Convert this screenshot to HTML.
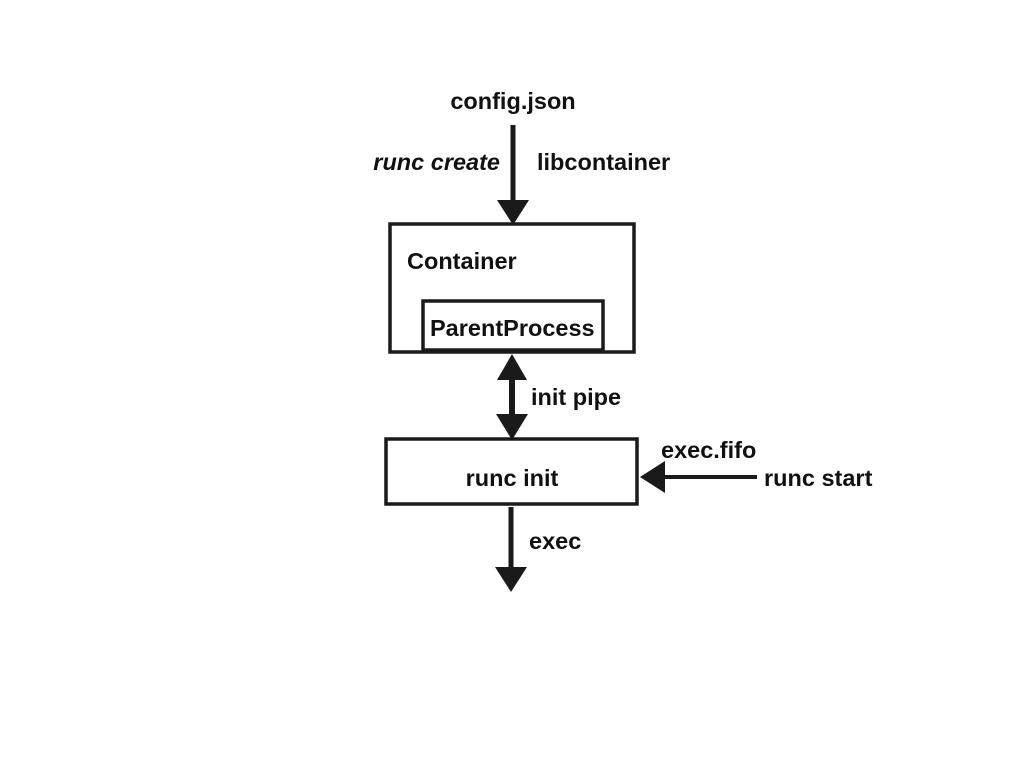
<!DOCTYPE html>
<html><head><style>
body{margin:0;width:1024px;height:768px;background:#fff;overflow:hidden}
svg text{font-family:"Liberation Sans",sans-serif;font-weight:bold;font-size:23.5px;fill:#111}
</style></head><body>
<svg width="1024" height="768" viewBox="0 0 1024 768">
<g stroke="#1a1a1a" fill="none">
<rect x="390" y="224" width="244" height="128" stroke-width="3.5"/>
<rect x="423" y="301" width="180" height="49" stroke-width="3.5"/>
<rect x="386" y="439" width="251" height="65" stroke-width="3.5"/>
<line x1="513" y1="125" x2="513" y2="205" stroke-width="5"/>
<line x1="512" y1="375" x2="512" y2="420" stroke-width="6"/>
<line x1="511" y1="507" x2="511" y2="572" stroke-width="5"/>
<line x1="660" y1="477" x2="757" y2="477" stroke-width="4"/>
</g>
<g fill="#1a1a1a">
<polygon points="497,200 529,200 513,225"/>
<polygon points="497,380 527,380 512,354"/>
<polygon points="496,414 528,414 512,440"/>
<polygon points="495,567 527,567 511,592"/>
<polygon points="665,461 665,493 640,477"/>
</g>
<text x="513" y="109" text-anchor="middle">config.json</text>
<text x="500" y="170" text-anchor="end" font-style="italic">runc create</text>
<text x="537" y="170">libcontainer</text>
<text x="407" y="269">Container</text>
<text x="430" y="336">ParentProcess</text>
<text x="531" y="405">init pipe</text>
<text x="512" y="486" text-anchor="middle">runc init</text>
<text x="661" y="458">exec.fifo</text>
<text x="764" y="486">runc start</text>
<text x="529" y="549">exec</text>
</svg>
</body></html>
